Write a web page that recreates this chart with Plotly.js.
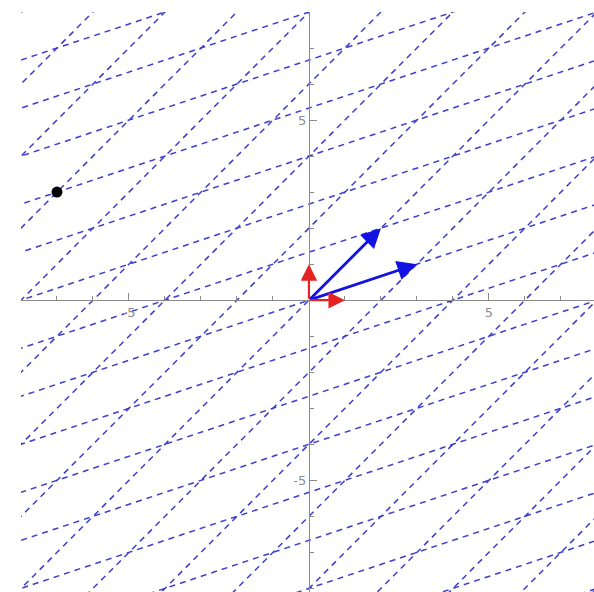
<!DOCTYPE html>
<html>
<head>
<meta charset="utf-8">
<script src="https://cdn.plot.ly/plotly-3.0.1.min.js"></script>
<style>html,body{margin:0;padding:0;background:#fff;}#chart{width:594px;height:592px;}</style>
</head>
<body>
<div id="chart"></div>
<script>
// Standard basis (red) and lattice basis (blue)
const redVectors = [[1, 0], [0, 1]];
const blueVectors = [[2, 2], [3, 1]];
// Highlighted lattice point
const pointX = [-7];
const pointY = [3];
// Lattice line indices and the half-length of each grid line (in basis steps)
const lineIndex = [-10, -9, -8, -7, -6, -5, -4, -3, -2, -1, 0, 1, 2, 3, 4, 5, 6, 7, 8, 9, 10];
const lineHalfLength = 14;
// Axis ticks
const majorTicks = [-5, 5];
const majorTickText = ['-5', '5'];
const minorTicks = [-8, -7, -6, -5, -4, -3, -2, -1, 1, 2, 3, 4, 5, 6, 7, 8];

const b1 = blueVectors[0], b2 = blueVectors[1];
const gx = [], gy = [];
// lines parallel to b2 through multiples of b1, and parallel to b1 through multiples of b2
lineIndex.forEach(i => {
  const p = [i * b1[0], i * b1[1]];
  gx.push(p[0] - lineHalfLength * b2[0], p[0] + lineHalfLength * b2[0], null);
  gy.push(p[1] - lineHalfLength * b2[1], p[1] + lineHalfLength * b2[1], null);
});
lineIndex.forEach(j => {
  const p = [j * b2[0], j * b2[1]];
  gx.push(p[0] - lineHalfLength * b1[0], p[0] + lineHalfLength * b1[0], null);
  gy.push(p[1] - lineHalfLength * b1[1], p[1] + lineHalfLength * b1[1], null);
});

const traces = [
  {x: gx, y: gy, mode: 'lines', type: 'scatter', hoverinfo: 'skip',
   line: {color: 'rgb(62,62,205)', width: 1.5, dash: '6px,5px'}},
  {x: pointX, y: pointY, mode: 'markers', type: 'scatter',
   marker: {color: '#000', size: 11}}
];

const annotations = [];
blueVectors.forEach(v => annotations.push({
  x: v[0], y: v[1], ax: 0, ay: 0, xref: 'x', yref: 'y', axref: 'x', ayref: 'y',
  text: '', showarrow: true, arrowhead: 2, arrowsize: 1.4, arrowwidth: 2.8,
  arrowcolor: 'rgb(18,18,225)', standoff: 0
}));
redVectors.forEach(v => annotations.push({
  x: v[0], y: v[1], ax: 0, ay: 0, xref: 'x', yref: 'y', axref: 'x', ayref: 'y',
  text: '', showarrow: true, arrowhead: 2, arrowsize: 1.5, arrowwidth: 2.2,
  arrowcolor: 'rgb(228,35,35)', standoff: 0
}));

const xr = [-8, 7.92], yr = [-8.1, 8.0];
const axisCommon = {
  showgrid: false, zeroline: false, showline: true, linecolor: '#8a8a8a', linewidth: 1.2,
  tickmode: 'array', tickvals: majorTicks, ticktext: majorTickText,
  ticks: 'inside', ticklen: 7, tickcolor: '#8a8a8a', tickwidth: 1,
  tickfont: {family: 'DejaVu Sans', size: 13, color: '#8c8c8c'},
  minor: {tickmode: 'array', tickvals: minorTicks, ticks: 'inside', ticklen: 4, tickcolor: '#8a8a8a', tickwidth: 1, showgrid: false}
};
const layout = {
  width: 594, height: 592,
  margin: {l: 21, r: 0, t: 12, b: 0},
  paper_bgcolor: '#fff', plot_bgcolor: '#fff',
  showlegend: false,
  xaxis: Object.assign({range: xr, anchor: 'free', position: (0 - yr[0]) / (yr[1] - yr[0])}, axisCommon),
  yaxis: Object.assign({range: yr, anchor: 'free', position: (0 - xr[0]) / (xr[1] - xr[0])}, axisCommon),
  annotations: annotations
};

Plotly.newPlot('chart', traces, layout, {displayModeBar: false, staticPlot: true});
</script>
</body>
</html>
